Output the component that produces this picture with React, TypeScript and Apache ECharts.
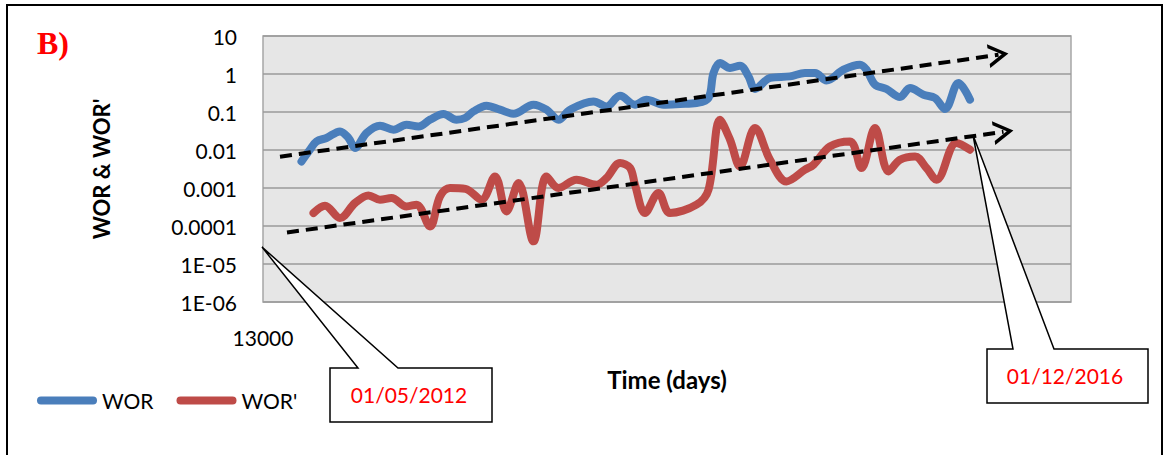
import React, { useEffect, useRef } from 'react';
import * as echarts from 'echarts';

// Time axis (days) and series values
const blueDays = [13077, 13094, 13107, 13127, 13154, 13171, 13184, 13207, 13234, 13261, 13287, 13311, 13334, 13361, 13387, 13404, 13421, 13447, 13474, 13501, 13541, 13567, 13591, 13614, 13661, 13687, 13714, 13744, 13767, 13801, 13834, 13867, 13891, 13901, 13914, 13934, 13954, 13971, 13984, 14014, 14054, 14084, 14104, 14127, 14161, 14194, 14207, 14224, 14247, 14274, 14294, 14321, 14344, 14364, 14391, 14414];
const worValues = [0.005, 0.0102, 0.0168, 0.0207, 0.0309, 0.0207, 0.0113, 0.028, 0.0436, 0.0342, 0.0463, 0.0418, 0.0627, 0.0886, 0.0627, 0.0695, 0.1037, 0.1465, 0.115, 0.0902, 0.1556, 0.115, 0.0627, 0.115, 0.19, 0.14, 0.268, 0.1556, 0.211, 0.1556, 0.1624, 0.1726, 0.234, 1.06, 1.95, 1.44, 1.65, 0.865, 0.403, 0.785, 0.865, 1.06, 1.06, 0.679, 1.3, 1.76, 1.3, 0.523, 0.403, 0.248, 0.428, 0.285, 0.234, 0.12, 0.58, 0.211];

const redDays = [13101, 13124, 13154, 13184, 13211, 13234, 13257, 13287, 13307, 13334, 13354, 13374, 13405, 13437, 13464, 13487, 13511, 13541, 13567, 13591, 13627, 13667, 13687, 13714, 13734, 13744, 13764, 13791, 13814, 13867, 13891, 13914, 13934, 13954, 13984, 14014, 14047, 14084, 14101, 14134, 14174, 14197, 14224, 14251, 14274, 14304, 14327, 14347, 14387, 14414];
const worPrimeValues = [0.00022, 0.00034, 0.000162, 0.000403, 0.000638, 0.000492, 0.000546, 0.000328, 0.000364, 0.0000976, 0.000601, 0.001, 0.00095, 0.000492, 0.00202, 0.000242, 0.00135, 0.0000394, 0.00202, 0.001, 0.00165, 0.00122, 0.00183, 0.00455, 0.0034, 0.00122, 0.00022, 0.000738, 0.00022, 0.000364, 0.000902, 0.0627, 0.0187, 0.0037, 0.0379, 0.00556, 0.00149, 0.00303, 0.0041, 0.0124, 0.0168, 0.00336, 0.0379, 0.00273, 0.00556, 0.00679, 0.00336, 0.00165, 0.0153, 0.0102];

// Trend arrows (start, end) in data units
const worTrendStart = [13034, 0.00667];
const worTrendEnd = [14471, 3.2];
const worPrimeTrendStart = [13048, 0.0000674];
const worPrimeTrendEnd = [14481, 0.0301];

const yTickLabels = ['1E-06', '1E-05', '0.0001', '0.001', '0.01', '0.1', '1', '10'];
const xStartDay = 13000;
const xEndDay = 14616;
const seriesNames = ['WOR', "WOR'"];
const calloutDates = ['01/05/2012', '01/12/2016'];

const FONT = 'Lato';
const chevron = 'path://M0,20 L12,0 L24,20 L20,20 L12,6.7 L4,20 Z';

function zip(xs: number[], ys: number[]) {
  return xs.map((x, i) => [x, ys[i]]);
}

function trendMarkLine(a: number[], b: number[]) {
  return {
    silent: true,
    symbol: ['none', chevron],
    symbolSize: [24, 20],
    lineStyle: { color: '#000', type: [12, 7], width: 4 },
    label: { show: false },
    emphasis: { disabled: true },
    data: [[{ coord: a }, { coord: b }]],
  };
}

export default function App() {
  const ref = useRef<HTMLDivElement>(null);
  useEffect(() => {
    const chart = echarts.init(ref.current!, null, { renderer: 'svg' });
    chart.setOption({
      animation: false,
      backgroundColor: '#ffffff',
      title: {
        text: 'B)',
        left: 37,
        top: 27,
        padding: 0,
        textStyle: { fontFamily: 'Liberation Serif', fontWeight: 'bold', fontSize: 32, color: '#FF0000' },
      },
      legend: {
        left: 37,
        top: 390,
        padding: 0,
        itemWidth: 60,
        itemHeight: 8,
        itemGap: 23,
        icon: 'path://M4,0 H56 A4,4 0 0 1 56,8 H4 A4,4 0 0 1 4,0 Z',
        data: seriesNames,
        textStyle: { fontFamily: FONT, fontSize: 21, color: '#000' },
      },
      grid: {
        left: 263,
        right: 95,
        top: 36,
        bottom: 153,
        show: true,
        backgroundColor: '#E6E6E6',
        borderColor: '#A6A6A6',
        borderWidth: 1.5,
      },
      xAxis: {
        type: 'value',
        min: xStartDay,
        max: xEndDay,
        name: 'Time (days)',
        nameLocation: 'middle',
        nameGap: 65,
        nameTextStyle: { fontFamily: FONT, fontWeight: 'bold', fontSize: 24, color: '#000' },
        axisLine: { show: false },
        axisTick: { show: false },
        splitLine: { show: false },
        axisLabel: {
          margin: 25,
          fontFamily: FONT,
          fontSize: 21,
          color: '#000',
          showMaxLabel: false,
          formatter: (v: number) => (v === xStartDay ? String(xStartDay) : ''),
        },
      },
      yAxis: {
        type: 'log',
        logBase: 10,
        min: 1e-6,
        max: 10,
        name: "WOR & WOR'",
        nameLocation: 'middle',
        nameGap: 151,
        nameTextStyle: { fontFamily: FONT, fontWeight: 'bold', fontSize: 22, color: '#000' },
        axisLine: { show: false },
        axisTick: { show: false },
        splitLine: { show: true, lineStyle: { color: '#9A9A9A', width: 1.5 } },
        axisLabel: {
          margin: 26,
          fontFamily: FONT,
          fontSize: 21,
          color: '#000',
          formatter: (v: number) => yTickLabels[Math.round(Math.log10(v)) + 6] ?? '',
        },
      },
      series: [
        {
          name: seriesNames[0],
          type: 'line',
          data: zip(blueDays, worValues),
          smooth: 0.35,
          showSymbol: false,
          color: '#4A7EBB',
          lineStyle: { width: 8, color: '#4A7EBB', cap: 'round', join: 'round' },
          markLine: trendMarkLine(worTrendStart, worTrendEnd),
        },
        {
          name: seriesNames[1],
          type: 'line',
          data: zip(redDays, worPrimeValues),
          smooth: 0.35,
          showSymbol: false,
          color: '#BE4B48',
          lineStyle: { width: 8, color: '#BE4B48', cap: 'round', join: 'round' },
          markLine: trendMarkLine(worPrimeTrendStart, worPrimeTrendEnd),
        },
      ],
      graphic: [
        {
          type: 'rect',
          z: 0,
          silent: true,
          shape: { x: 7, y: 5, width: 1155, height: 462 },
          style: { fill: 'none', stroke: '#000', lineWidth: 2 },
        },
        {
          type: 'polygon',
          z: 100,
          silent: true,
          shape: { points: [[330, 368], [358, 368], [262, 247], [398, 368], [492, 368], [492, 422], [330, 422]] },
          style: { fill: '#fff', stroke: '#000', lineWidth: 1.5 },
        },
        {
          type: 'text',
          z: 101,
          silent: true,
          style: { text: calloutDates[0], x: 409, y: 394, align: 'center', verticalAlign: 'middle', fill: '#FF0000', font: `21px ${FONT}` },
        },
        {
          type: 'polygon',
          z: 100,
          silent: true,
          shape: { points: [[987, 349], [1013, 349], [973, 135], [1054, 349], [1148, 349], [1148, 403], [987, 403]] },
          style: { fill: '#fff', stroke: '#000', lineWidth: 1.5 },
        },
        {
          type: 'text',
          z: 101,
          silent: true,
          style: { text: calloutDates[1], x: 1065, y: 375, align: 'center', verticalAlign: 'middle', fill: '#FF0000', font: `21px ${FONT}` },
        },
      ],
    });
    return () => chart.dispose();
  }, []);
  return (
    <div
      ref={ref}
      style={{ position: 'fixed', left: 0, top: 0, width: 1166, height: 455, background: '#fff' }}
    />
  );
}
